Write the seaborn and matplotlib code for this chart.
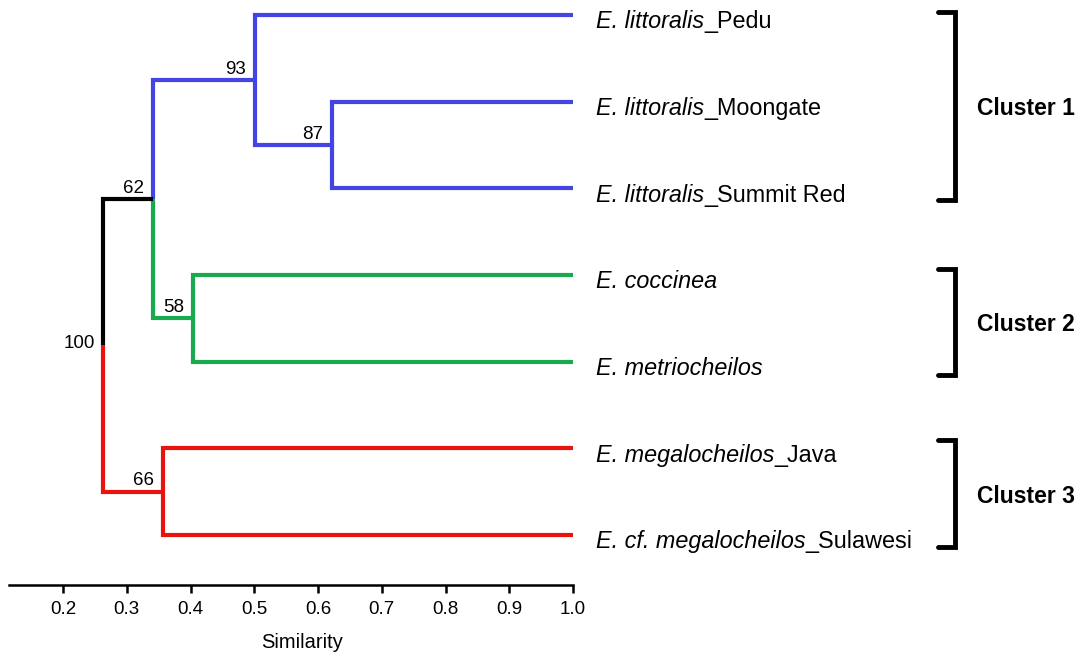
import numpy as np
import pandas as pd
import matplotlib
matplotlib.use("Agg")
import matplotlib.pyplot as plt
import seaborn as sns
from matplotlib.transforms import blended_transform_factory

# ---------------- data ----------------
leaf_species = [
    "E. littoralis", "E. littoralis", "E. littoralis",
    "E. coccinea", "E. metriocheilos",
    "E. megalocheilos", "E. cf. megalocheilos",
]
leaf_suffix = ["_Pedu", "_Moongate", "_Summit Red", "", "", "_Java", "_Sulawesi"]
leaf_groups = ["blue", "blue", "blue", "green", "green", "red", "red"]
leaf_similarity = 1.0

# internal nodes (ids 7..12): children ids, similarity, bootstrap support, branch colour
node_children = [(1, 2), (0, 7), (3, 4), (8, 9), (5, 6), (10, 11)]
node_similarity = [0.622, 0.501, 0.404, 0.341, 0.357, 0.263]
node_support = [87, 93, 58, 62, 66, 100]
node_groups = ["blue", "blue", "green", "black", "red", None]

cluster_names = ["Cluster 1", "Cluster 2", "Cluster 3"]
cluster_members = [(0, 2), (3, 4), (5, 6)]

xticks = [0.2, 0.3, 0.4, 0.5, 0.6, 0.7, 0.8, 0.9, 1.0]
xlabel = "Similarity"

palette = {"blue": "#4444e4", "green": "#19a94f", "red": "#e8130f", "black": "#000000"}

# ---------------- build tree geometry ----------------
n_leaf = len(leaf_species)
xs = [leaf_similarity] * n_leaf
ys = list(range(n_leaf))
groups = list(leaf_groups)
parent = {}
for k, (a, b) in enumerate(node_children):
    nid = n_leaf + k
    xs.append(node_similarity[k])
    ys.append((ys[a] + ys[b]) / 2.0)
    groups.append(node_groups[k])
    parent[a] = nid
    parent[b] = nid

rows = []
for child, par in parent.items():
    pts = [(xs[child], ys[child]), (xs[par], ys[child]), (xs[par], ys[par])]
    for order, (px, py) in enumerate(pts):
        rows.append(dict(seg=child, order=order, x=px, y=py, group=groups[child]))
df = pd.DataFrame(rows)

# ---------------- figure ----------------
sns.set_theme(style="white")
plt.rcParams["font.family"] = ["Liberation Sans", "DejaVu Sans"]
for key in ["text.color", "axes.labelcolor", "xtick.color", "ytick.color", "axes.edgecolor"]:
    plt.rcParams[key] = "black"

W, H = 1086, 657
fig = plt.figure(figsize=(W / 100, H / 100), dpi=100)
ax_left, ax_right, ax_bottom_px = 8.5, 573, 585
ax = fig.add_axes([ax_left / W, (H - ax_bottom_px) / H, (ax_right - ax_left) / W, ax_bottom_px / H])

sns.lineplot(data=df, x="x", y="y", units="seg", estimator=None, sort=False,
             hue="group", palette=palette, legend=False, linewidth=3.0,
             solid_joinstyle="miter", solid_capstyle="butt", ax=ax)

px_per_leaf = 86.67
ax.set_xlim(0.1145, 1.0)
ax.set_ylim(6 + (ax_bottom_px - 535) / px_per_leaf, -15 / px_per_leaf)

ax.set_yticks([])
ax.set_ylabel("")
ax.set_xticks(xticks)
ax.set_xticklabels([f"{t:.1f}" for t in xticks], fontsize=13.5)
ax.tick_params(axis="x", direction="out", length=6, width=1.8, pad=5.5, colors="black", bottom=True)
ax.set_xlabel(xlabel, fontsize=14.5, labelpad=11, color="black")
ax.xaxis.label.set_x(0.52)
for s in ["left", "right", "top"]:
    ax.spines[s].set_visible(False)
ax.spines["bottom"].set_linewidth(1.8)
ax.spines["bottom"].set_color("black")

# leaf labels: italic species name + upright suffix
for i, (sp, suf) in enumerate(zip(leaf_species, leaf_suffix)):
    t1 = ax.annotate(sp, xy=(xs[i], ys[i]), xytext=(16.5, -9.6), textcoords="offset points",
                     ha="left", va="baseline", fontsize=16.8, style="italic",
                     color="black", annotation_clip=False)
    if suf:
        ax.annotate(suf, xy=(1, 0), xycoords=t1, ha="left", va="bottom",
                    fontsize=16.8, color="black", annotation_clip=False)

# support values
for k, sup in enumerate(node_support):
    nid = n_leaf + k
    if node_groups[k] is None:  # root
        off = (-6, -1.5)
    else:
        off = (-6.5, 4.5)
    ax.annotate(str(sup), xy=(xs[nid], ys[nid]), xytext=off, textcoords="offset points",
                ha="right", va="baseline", fontsize=13.5, color="black", annotation_clip=False)

# cluster brackets
tr = blended_transform_factory(fig.transFigure, ax.transData)
br_x, hook_x, text_x = 955 / W, 938 / W, 977 / W
pads = [(0.035, 0.135), (0.075, 0.15), (0.10, 0.14)]
for name, (lo, hi), (pt, pb) in zip(cluster_names, cluster_members, pads):
    y0, y1 = lo - pt, hi + pb
    ax.plot([hook_x, br_x, br_x, hook_x], [y0, y0, y1, y1], color="black", lw=3.5,
            solid_joinstyle="miter", transform=tr, clip_on=False)
    ax.text(text_x, (y0 + y1) / 2 + 0.03, name, transform=tr, ha="left", va="center",
            fontsize=16.5, fontweight="bold", color="black")

fig.savefig("out.png", dpi=100)
